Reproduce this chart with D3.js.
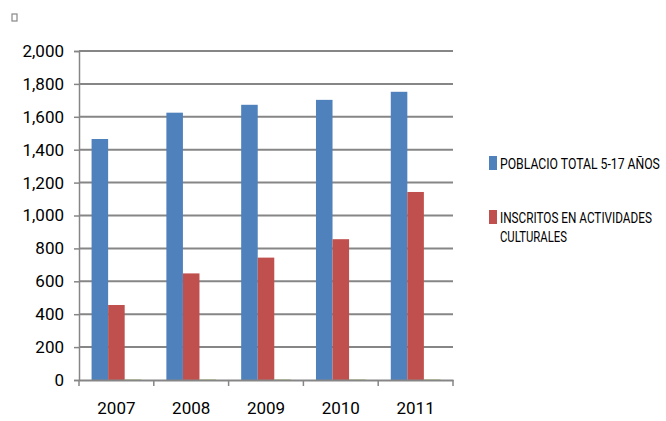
<!DOCTYPE html>
<html>
<head>
<meta charset="utf-8">
<script src="https://cdn.jsdelivr.net/npm/d3@7"></script>
<style>
  body { margin: 0; background: #fff; }
  svg text { font-family: "Liberation Sans Narrow", "Roboto", "Liberation Sans", sans-serif; font-weight: 400; fill: #000; }
</style>
</head>
<body>
<div id="chart"></div>
<script>
// chart data
const years = ['2007', '2008', '2009', '2010', '2011'];
const poblacion = [1465, 1625, 1673, 1703, 1752];
const inscritos = [456, 648, 744, 856, 1143];
const serie3 = [3, 3, 3, 3, 3]; // third series, almost zero
const yTicks = [0, 200, 400, 600, 800, 1000, 1200, 1400, 1600, 1800, 2000];
const seriesNames = ['POBLACIO TOTAL 5-17 AÑOS', 'INSCRITOS EN ACTIVIDADES CULTURALES', ''];

const width = 666, height = 421;
const margin = { top: 51, right: 213, bottom: 41, left: 79 };

const svg = d3.select('#chart')
    .append('svg')
    .attr('width', width)
    .attr('height', height);

const x = d3.scaleBand()
    .domain(years)
    .range([margin.left, width - margin.right]);

const xInner = d3.scaleBand()
    .domain([0, 1, 2])
    .range([0, x.bandwidth()])
    .paddingOuter(0.76);

const y = d3.scaleLinear()
    .domain([0, 2000])
    .range([height - margin.bottom, margin.top]);

const colors = ['#4f81bd', '#c0504d', '#9bbb59'];
const grid = '#868686';

// gridlines
svg.append('g')
    .selectAll('line')
    .data(yTicks.filter(d => d > 0))
    .enter()
    .append('line')
    .attr('x1', margin.left)
    .attr('x2', width - margin.right)
    .attr('y1', d => y(d))
    .attr('y2', d => y(d))
    .attr('stroke', grid)
    .attr('stroke-width', 2);

// y axis
const yAxis = svg.append('g')
    .attr('transform', `translate(${margin.left},0)`)
    .call(d3.axisLeft(y).tickValues(yTicks).tickFormat(d3.format(',')).tickSize(5).tickPadding(10));
yAxis.selectAll('line').attr('stroke', grid).attr('stroke-width', 1.5);
yAxis.select('.domain').attr('stroke', grid).attr('stroke-width', 1.5);
yAxis.selectAll('text').attr('font-size', 17).attr('fill', '#000');

// bars
const data = [poblacion, inscritos, serie3];
data.forEach((vals, i) => {
    svg.append('g')
        .selectAll('rect')
        .data(vals)
        .enter()
        .append('rect')
        .attr('x', (d, j) => x(years[j]) + xInner(i))
        .attr('width', xInner.bandwidth())
        .attr('y', d => y(d))
        .attr('height', d => y(0) - y(d))
        .attr('fill', colors[i]);
});

// x axis
const xAxis = svg.append('g')
    .attr('transform', `translate(0,${y(0)})`)
    .call(d3.axisBottom(x).tickSize(0).tickPadding(22));
xAxis.select('.domain').attr('stroke', grid).attr('stroke-width', 2);
xAxis.selectAll('text').attr('font-size', 17).attr('fill', '#000');
svg.append('g')
    .selectAll('line')
    .data(years.map(d => x(d)).concat([x(years[years.length - 1]) + x.bandwidth()]))
    .enter()
    .append('line')
    .attr('x1', d => d).attr('x2', d => d)
    .attr('y1', y(0)).attr('y2', y(0) + 6)
    .attr('stroke', grid)
    .attr('stroke-width', 1.5);

// legend - text squeezed horizontally to look like the narrow original font
const legend = svg.append('g');
const legendRows = [
    { color: colors[0], top: 156, lines: [[seriesNames[0], 160]] },
    { color: colors[1], top: 210, lines: [['INSCRITOS EN ACTIVIDADES', 152], ['CULTURALES', 67]] }
];
legendRows.forEach(r => {
    legend.append('rect')
        .attr('x', 489).attr('y', r.top)
        .attr('width', 8).attr('height', 14)
        .attr('fill', r.color);
    r.lines.forEach(([t, len], k) => {
        const g = legend.append('g');
        const txt = g.append('text')
            .attr('x', 0).attr('y', 0)
            .attr('font-size', 15)
            .text(t);
        const s = Math.min(1, len / txt.node().getComputedTextLength());
        g.attr('transform', `translate(500,${r.top + 13 + k * 19}) scale(${s},1)`);
    });
});

// small empty legend marker at top left
svg.append('rect')
    .attr('x', 12).attr('y', 14)
    .attr('width', 5).attr('height', 7)
    .attr('fill', '#fff')
    .attr('stroke', '#888')
    .attr('stroke-width', 1.2);
</script>
</body>
</html>
